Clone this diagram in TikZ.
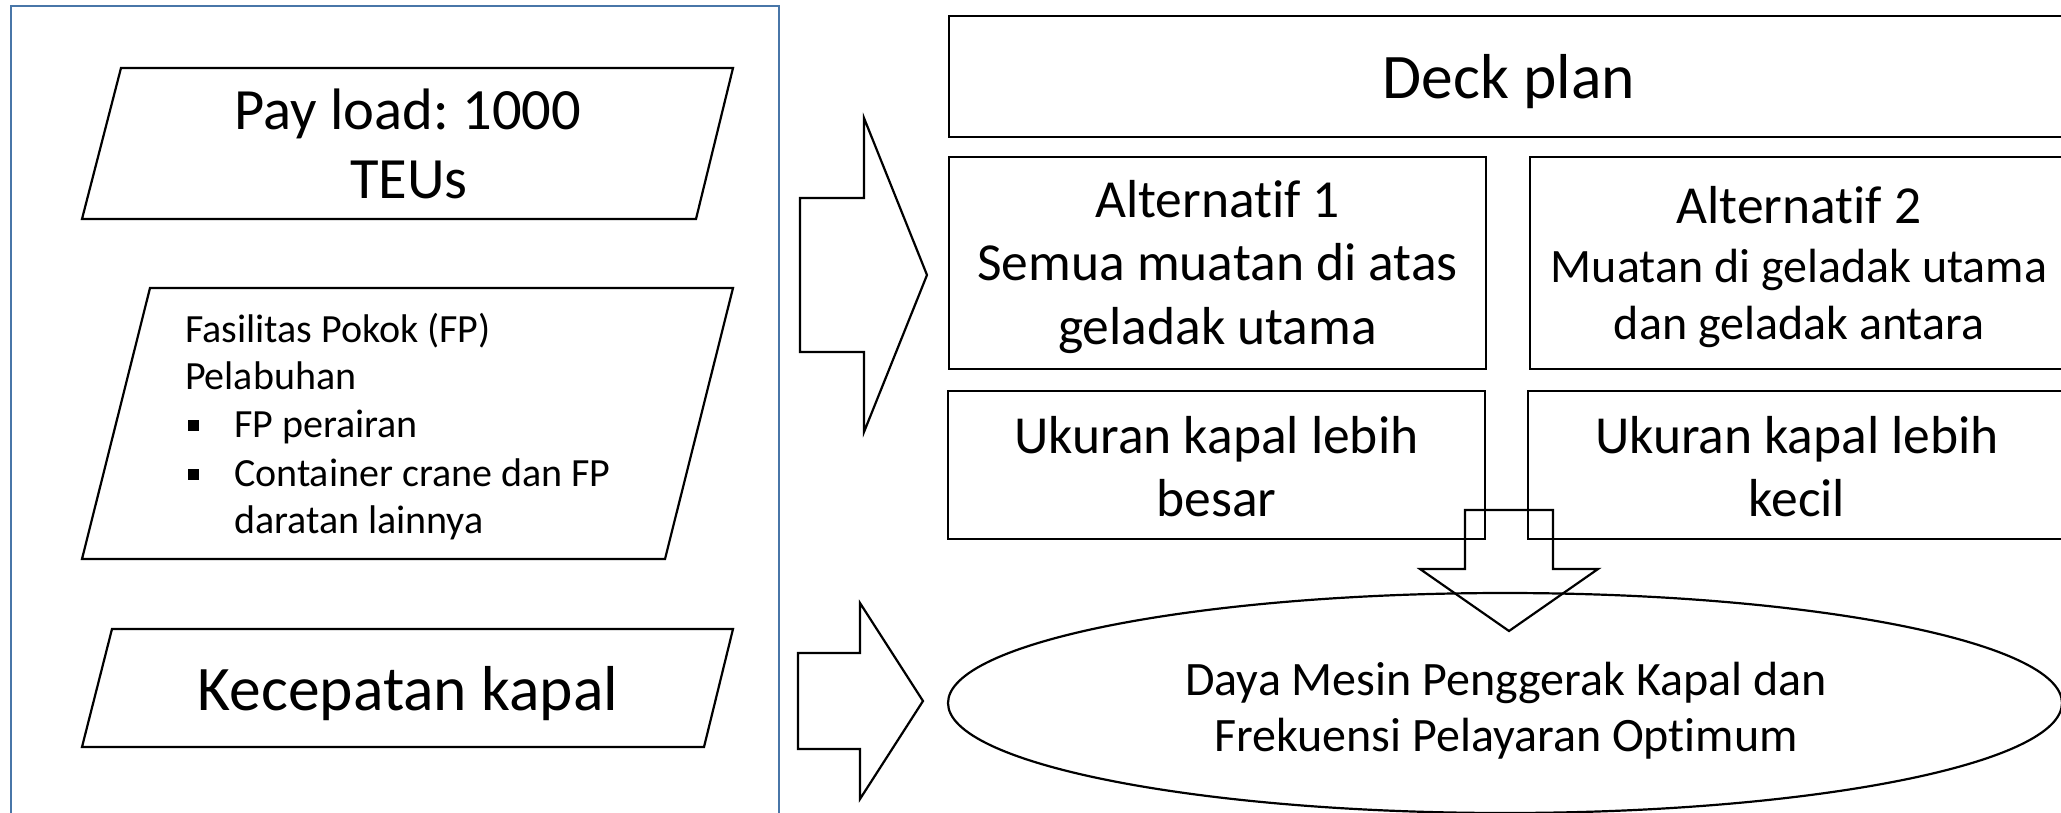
\documentclass[tikz,border=0pt]{standalone}
\usepackage{fontspec}
\setmainfont{Carlito}[Ligatures={NoCommon,NoRequired,NoContextual}]
\usetikzlibrary{shapes.geometric}
\definecolor{framecol}{RGB}{72,118,168}
\begin{document}
\frenchspacing
\begin{tikzpicture}[x=1pt,y=-1pt,
  outline/.style={draw=black, line width=2.2pt, line join=miter},
  box/.style={outline, rectangle, inner sep=0pt, outer sep=0pt},
  oval/.style={outline, ellipse, inner sep=0pt, outer sep=0pt},
  lbl/.style={anchor=base, inner sep=0pt, outer sep=0pt},
  lblw/.style={anchor=base west, inner sep=0pt, outer sep=0pt},
  fPay/.style={font=\fontsize{58.5}{68}\selectfont},
  fFas/.style={font=\fontsize{40}{48}\selectfont},
  fBig/.style={font=\fontsize{63.5}{74}\selectfont},
  fAlt/.style={font=\fontsize{53.5}{63}\selectfont},
  fAltB/.style={font=\fontsize{48}{57}\selectfont},
  fDaya/.style={font=\fontsize{48}{57}\selectfont}]
\clip (0,0) rectangle (2061,812);
\fill[white] (0,0) rectangle (2061,812);

% left frame
\draw[framecol, line width=2.5pt] (11,835) -- (11,6) -- (779,6) -- (779,835);

% parallelograms
\draw[outline] (121,68) -- (733,68) -- (696,219) -- (82,219) -- cycle;
\draw[outline] (150,288) -- (733,288) -- (665,559) -- (82,559) -- cycle;
\draw[outline] (112,629) -- (733,629) -- (704,747) -- (82,747) -- cycle;

\node[lbl, fPay] (pay1) at (408,129.5) {Pay load: 1000};
\node[lbl, fPay] (pay2) at (409,198) {TEUs};

\node[lblw, fFas] (fas1) at (185,342) {Fasilitas Pokok (FP)};
\node[lblw, fFas] (fas2) at (185,389) {Pelabuhan};
\node[lblw, fFas] (fas3) at (234,437.5) {FP perairan};
\node[lblw, fFas] (fas4) at (234,486) {Container crane dan FP};
\node[lblw, fFas] (fas5) at (234,533) {daratan lainnya};
\fill (188,420) rectangle (199,431);
\fill (188,468.5) rectangle (199,479.5);

\node[lbl, fBig] (kec) at (408,710.5) {Kecepatan kapal};

% block arrows pointing right
\draw[outline] (800,198) -- (864,198) -- (864,118) -- (927,275) -- (864,432) -- (864,352) -- (800,352) -- cycle;
\draw[outline] (798,653) -- (860,653) -- (860,603) -- (923,701) -- (860,799) -- (860,749) -- (798,749) -- cycle;

% right boxes
\node[box, minimum width=1120, minimum height=121] (deck) at (1509,76.5) {};
\node[box, minimum width=537, minimum height=212] (alt1) at (1217.5,263) {};
\node[box, minimum width=537, minimum height=212] (alt2) at (1798.5,263) {};
\node[box, minimum width=537, minimum height=148] (uk1) at (1216.5,465) {};
\node[box, minimum width=537, minimum height=148] (uk2) at (1796.5,465) {};
\node[oval, minimum width=1114, minimum height=220] (daya) at (1505,703) {};

\node[lbl, fBig] (deckT) at (1509,98) {Deck plan};

\node[lbl, fAlt] (a1a) at (1217.5,217) {Alternatif 1};
\node[lbl, fAlt] (a1b) at (1217.5,280) {Semua muatan di atas};
\node[lbl, fAlt] (a1c) at (1217.5,344) {geladak utama};

\node[lbl, fAlt] (a2a) at (1799,223) {Alternatif 2};
\node[lbl, fAltB] (a2b) at (1799,282) {Muatan di geladak utama};
\node[lbl, fAltB] (a2c) at (1799,339) {dan geladak antara};

\node[lbl, fAlt] (u1a) at (1216.5,453) {Ukuran kapal lebih};
\node[lbl, fAlt] (u1b) at (1216.5,516.5) {besar};
\node[lbl, fAlt] (u2a) at (1797,453) {Ukuran kapal lebih};
\node[lbl, fAlt] (u2b) at (1797,516.5) {kecil};

\node[lbl, fDaya] (d1) at (1506,695) {Daya Mesin Penggerak Kapal dan};
\node[lbl, fDaya] (d2) at (1506,751) {Frekuensi Pelayaran Optimum};

% down block arrow
\draw[outline] (1465,510) -- (1553,510) -- (1553,569) -- (1598,569) -- (1509,631) -- (1420,569) -- (1465,569) -- cycle;
\end{tikzpicture}
\end{document}
